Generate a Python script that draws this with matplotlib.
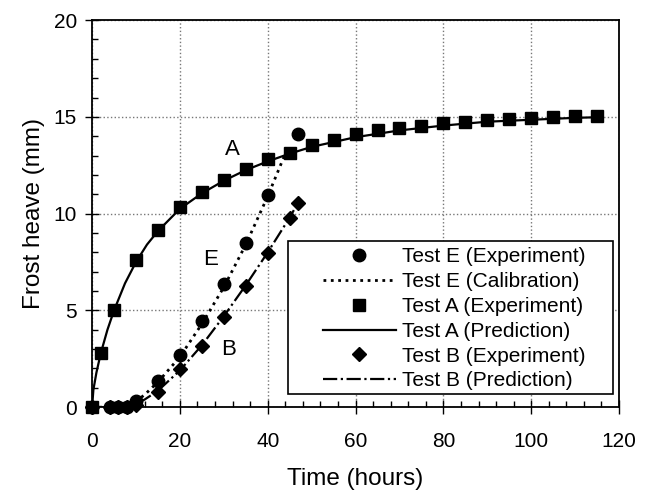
import matplotlib.pyplot as plt
from matplotlib.patches import Rectangle
from matplotlib.ticker import MultipleLocator

plt.rcParams['font.family'] = ['Liberation Sans', 'DejaVu Sans']

# Test A (experiment + prediction)
a_exp_t = [0, 2, 5, 10, 15, 20, 25, 30, 35, 40, 45, 50, 55, 60, 65, 70,
           75, 80, 85, 90, 95, 100, 105, 110, 115]
a_exp_y = [0, 2.8, 5.0, 7.6, 9.15, 10.35, 11.1, 11.75, 12.3, 12.8, 13.15,
           13.55, 13.8, 14.1, 14.3, 14.45, 14.55, 14.7, 14.75, 14.85, 14.9,
           14.95, 15.0, 15.05, 15.05]
a_pred_t = [0, 0.3, 1, 2, 3.5, 5, 7.5, 10, 12.5, 15, 20, 25, 30, 35, 40, 45,
            50, 60, 70, 80, 90, 100, 110, 115]
a_pred_y = [0, 0.9, 1.8, 2.8, 4.0, 5.0, 6.4, 7.5, 8.4, 9.1, 10.25, 11.05,
            11.7, 12.25, 12.7, 13.1, 13.45, 13.95, 14.3, 14.55, 14.75, 14.85,
            14.95, 14.98]

# Test E (experiment + calibration)
e_exp_t = [0, 4, 6, 8, 10, 15, 20, 25, 30, 35, 40, 47]
e_exp_y = [0, 0, 0, 0, 0.3, 1.35, 2.7, 4.45, 6.35, 8.5, 10.95, 14.1]
e_cal_t = [0, 5, 8, 10, 12, 15, 20, 25, 30, 35, 40, 44]
e_cal_y = [0, 0, 0.1, 0.3, 0.65, 1.3, 2.6, 4.3, 6.2, 8.4, 10.9, 13.1]

# Test B (experiment + prediction)
b_exp_t = [0, 4, 6, 8, 10, 15, 20, 25, 30, 35, 40, 45, 47]
b_exp_y = [0, 0, 0, 0, 0.1, 0.8, 1.95, 3.15, 4.65, 6.25, 7.95, 9.8, 10.55]
b_pred_t = [0, 5, 8, 10, 12, 15, 20, 25, 30, 35, 40, 45, 47]
b_pred_y = [0, 0, 0.05, 0.15, 0.4, 0.85, 1.9, 3.2, 4.7, 6.3, 8.0, 9.8, 10.6]

fig = plt.figure(figsize=(6.53, 4.9), dpi=100)
ax = fig.add_axes([0.141, 0.169, 0.807, 0.790])

ax.plot(e_exp_t, e_exp_y, 'o', color='black', ms=9, clip_on=False, zorder=4,
        label='Test E (Experiment)')
ax.plot(e_cal_t, e_cal_y, ':', color='black', lw=2, label='Test E (Calibration)')
ax.plot(a_exp_t, a_exp_y, 's', color='black', ms=8, clip_on=False, zorder=4,
        label='Test A (Experiment)')
ax.plot(a_pred_t, a_pred_y, '-', color='black', lw=1.6, label='Test A (Prediction)')
ax.plot(b_exp_t, b_exp_y, 'D', color='black', ms=7.5, clip_on=False, zorder=4,
        label='Test B (Experiment)')
ax.plot(b_pred_t, b_pred_y, '-.', color='black', lw=1.6, label='Test B (Prediction)')

# curve labels
ax.text(31.9, 13.3, 'A', fontsize=16, ha='center', va='center')
ax.text(26.9, 7.65, 'E', fontsize=16, ha='center', va='center')
ax.text(31.0, 3.0, 'B', fontsize=16, ha='center', va='center')

ax.set_xlim(0, 120)
ax.set_ylim(0, 20)
ax.xaxis.set_major_locator(MultipleLocator(20))
ax.xaxis.set_minor_locator(MultipleLocator(4))
ax.yaxis.set_major_locator(MultipleLocator(5))
ax.yaxis.set_minor_locator(MultipleLocator(1))
ax.tick_params(which='major', direction='inout', length=10, width=1, labelsize=15)
ax.tick_params(which='minor', direction='in', length=4, width=1)
ax.tick_params(axis='x', which='major', pad=13)
ax.tick_params(axis='y', which='major', pad=6)
ax.grid(True, which='major', linestyle=':', color='#777777', lw=1)
for s in ax.spines.values():
    s.set_linewidth(1.3)

ax.set_xlabel('Time (hours)', fontsize=17.5, labelpad=12)
ax.set_ylabel('Frost heave (mm)', fontsize=17.5, labelpad=6)

# legend frame drawn separately so it can be wider than the entries
ax.add_patch(Rectangle((0.372, 0.034), 0.617, 0.396, transform=ax.transAxes,
                       facecolor='white', edgecolor='black', lw=1.2, zorder=5))
leg = ax.legend(loc='upper left', bbox_to_anchor=(0.438, 0.413), borderaxespad=0,
                fontsize=15, frameon=False, handlelength=3.5, handletextpad=0.3,
                labelspacing=0.28, borderpad=0)
leg.set_zorder(6)

fig.savefig('out.png', dpi=100)
